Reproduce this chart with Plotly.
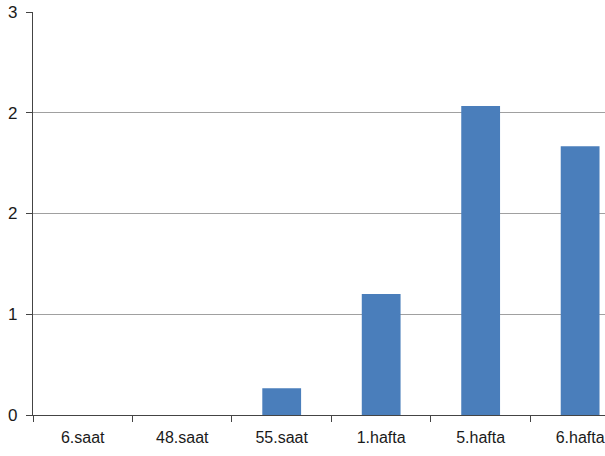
import plotly.graph_objects as go

# Measurement time points and mean values
categories = ["6.saat", "48.saat", "55.saat", "1.hafta", "5.hafta", "6.hafta"]
values = [0, 0, 0.2, 0.9, 2.3, 2.0]

# Y ticks every 0.75, shown with zero decimals
tick_vals = [0, 0.75, 1.5, 2.25, 3]
tick_text = ["0", "1", "2", "2", "3"]

fig = go.Figure(
    go.Bar(
        x=categories,
        y=values,
        width=0.39,
        marker=dict(color="#4a7ebb", line=dict(width=0)),
    )
)

fig.update_layout(
    width=605,
    height=456,
    margin=dict(l=33, r=0, t=12, b=41),
    paper_bgcolor="white",
    plot_bgcolor="white",
    showlegend=False,
    font=dict(family="Liberation Sans, Arial, sans-serif", size=16, color="#1a1a1a"),
)

fig.update_xaxes(
    range=[-0.5, 5.25],
    showline=True,
    linecolor="#444",
    linewidth=1.3,
    ticks="outside",
    tickson="boundaries",
    ticklen=6,
    tickcolor="#444",
    showgrid=False,
    tickfont=dict(size=16),
    ticklabelstandoff=8,
)

fig.update_yaxes(
    range=[0, 3],
    tickvals=tick_vals,
    ticktext=tick_text,
    showline=True,
    linecolor="#444",
    linewidth=1.3,
    ticks="outside",
    ticklen=6,
    tickcolor="#444",
    showgrid=True,
    gridcolor="#a0a0a0",
    gridwidth=1,
    zeroline=False,
    tickfont=dict(size=17),
    ticklabelstandoff=5,
)

fig.write_html("out.html")
